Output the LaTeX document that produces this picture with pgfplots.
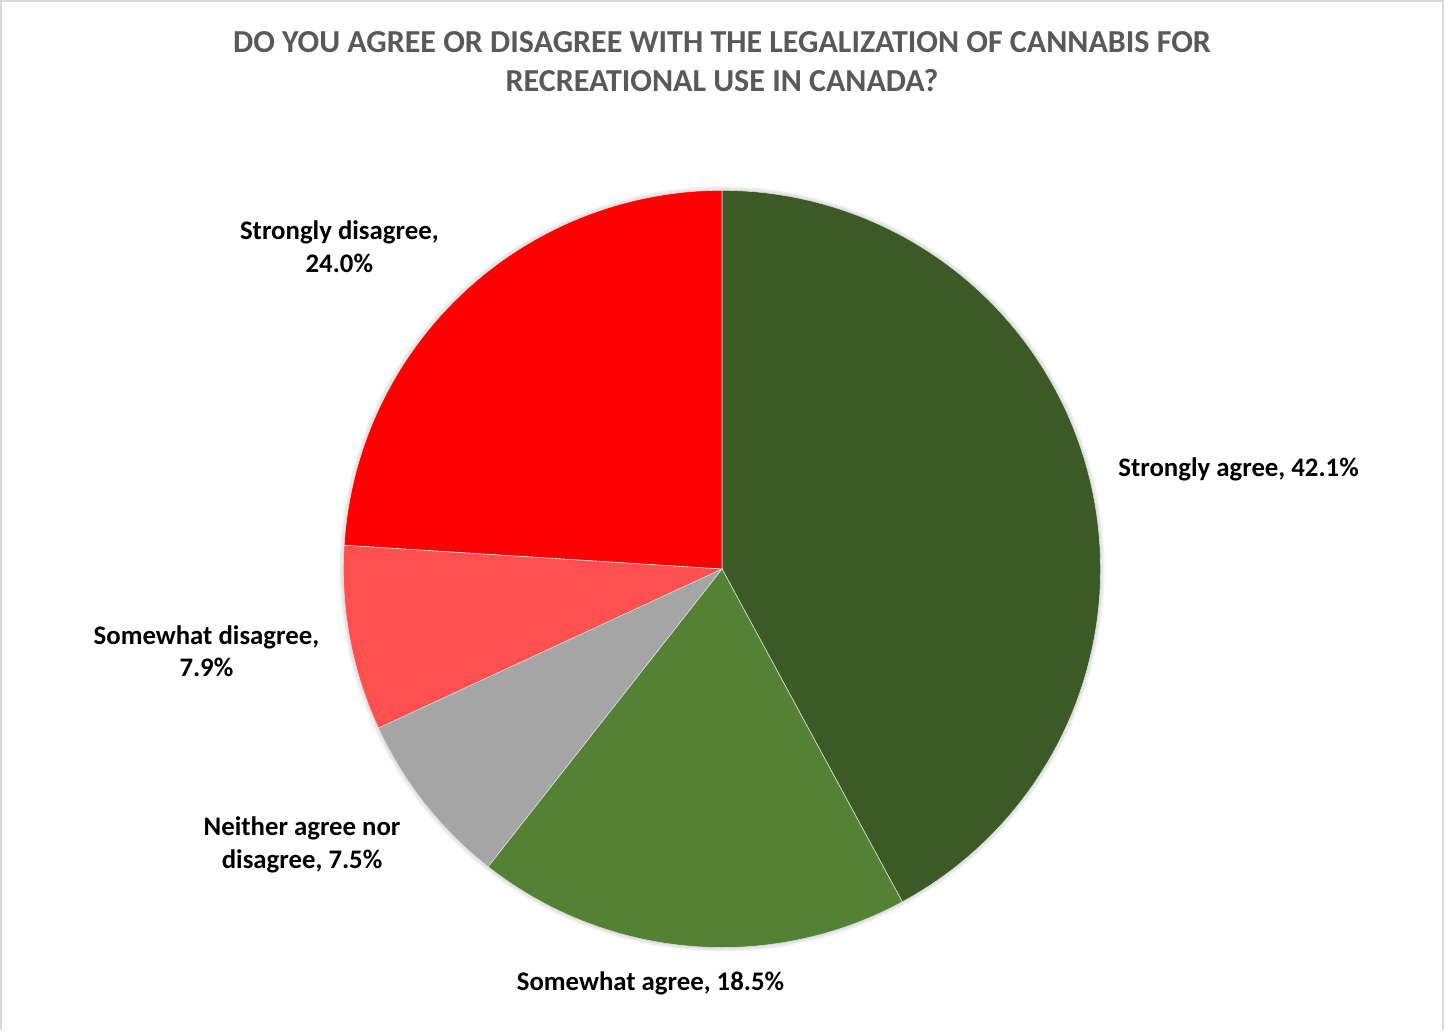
\documentclass[border=0pt]{standalone}
\usepackage{fontspec}
\setmainfont{Carlito}
\usepackage{pgfplots}
\pgfplotsset{compat=1.18}
\definecolor{cSA}{HTML}{3B5A25}
\definecolor{cSwA}{HTML}{548235}
\definecolor{cN}{HTML}{A5A5A5}
\definecolor{cSwD}{HTML}{FF5050}
\definecolor{cSD}{HTML}{FF0000}
\definecolor{ctitle}{HTML}{595959}
\definecolor{cborder}{HTML}{D9D9D9}
% survey shares (%)
\def\vSA{42.1}\def\vSwA{18.5}\def\vN{7.5}\def\vSwD{7.9}\def\vSD{24.0}
\pgfmathsetmacro{\aA}{90}
\pgfmathsetmacro{\aB}{\aA-3.6*\vSA}
\pgfmathsetmacro{\aC}{\aB-3.6*\vSwA}
\pgfmathsetmacro{\aD}{\aC-3.6*\vN}
\pgfmathsetmacro{\aE}{\aD-3.6*\vSwD}
\pgfmathsetmacro{\aF}{\aE-3.6*\vSD}
\begin{document}
\begin{tikzpicture}
\begin{axis}[
  xmin=0, xmax=1444, ymin=0, ymax=1028,
  scale only axis, width=722pt, height=514pt,
  hide axis, clip=false,
  every axis plot/.append style={draw=white!85!black, line width=0.3pt, samples=90, variable=\t},
]
\addplot[draw=cborder, line width=1pt] coordinates {(6,2) (6,1024) (1438,1024) (1438,2)};
\addplot[draw=black, opacity=0.05, line width=3pt, domain=0:360, samples=120] ({722+377*cos(\t)},{460+377*sin(\t)});
\addplot[draw=black, opacity=0.05, line width=1.5pt, domain=0:360, samples=120] ({722+377*cos(\t)},{460+377*sin(\t)});
\addplot[fill=cSA, domain=\aB:\aA] ({722+376*cos(\t)},{460+376*sin(\t)}) -- (722,460) -- cycle;
\addplot[fill=cSwA, domain=\aC:\aB] ({722+376*cos(\t)},{460+376*sin(\t)}) -- (722,460) -- cycle;
\addplot[fill=cN, domain=\aD:\aC] ({722+376*cos(\t)},{460+376*sin(\t)}) -- (722,460) -- cycle;
\addplot[fill=cSwD, domain=\aE:\aD] ({722+376*cos(\t)},{460+376*sin(\t)}) -- (722,460) -- cycle;
\addplot[fill=cSD, domain=\aF:\aE] ({722+376*cos(\t)},{460+376*sin(\t)}) -- (722,460) -- cycle;
\node[align=center, text=ctitle, font=\bfseries\fontsize{15.9}{19.5}\selectfont] at (722,964)
  {DO YOU AGREE OR DISAGREE WITH THE LEGALIZATION OF CANNABIS FOR\\RECREATIONAL USE IN CANADA?};
\begin{scope}[every node/.style={align=center, font=\bfseries\fontsize{13.3}{16}\selectfont}]
\node at (342,780) {Strongly disagree,\\24.0\%};
\node at (1235,559) {Strongly agree, 42.1\%};
\node at (210,378) {Somewhat disagree,\\7.9\%};
\node at (305,186) {Neither agree nor\\disagree, 7.5\%};
\node at (651,48) {Somewhat agree, 18.5\%};
\end{scope}
\end{axis}
\end{tikzpicture}
\end{document}
